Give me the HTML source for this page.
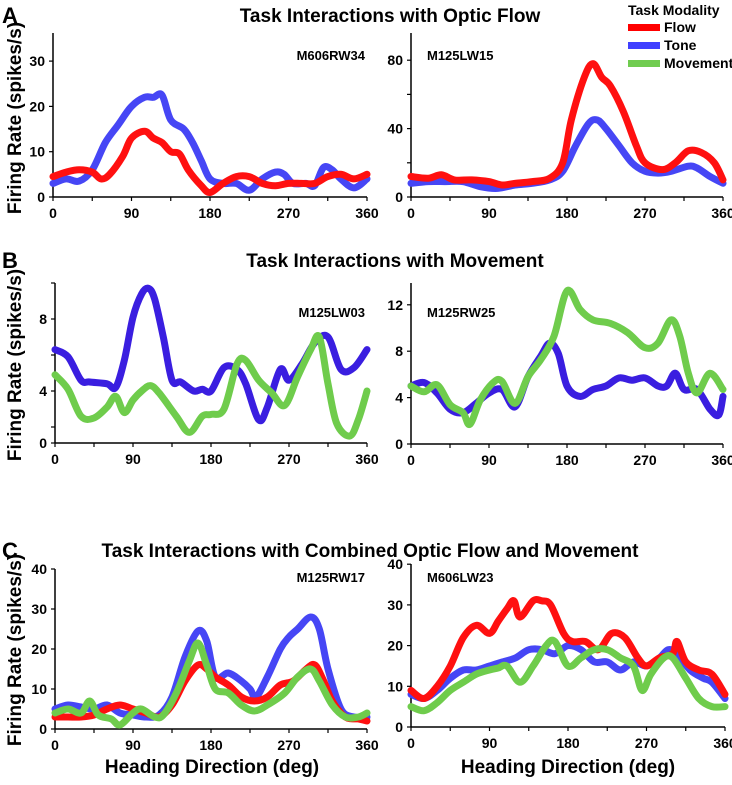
<!DOCTYPE html>
<html><head><meta charset="utf-8"><style>
body{margin:0;background:#fff;width:732px;height:780px;overflow:hidden}
svg text{font-family:"Liberation Sans",Arial,sans-serif;font-weight:bold;fill:#000}
</style></head><body>
<svg id="fig" width="732" height="780" xmlns="http://www.w3.org/2000/svg">
<text x="2" y="23" font-size="22">A</text>
<text x="390" y="22" font-size="19" text-anchor="middle">Task Interactions with Optic Flow</text>
<text x="2" y="268" font-size="22">B</text>
<text x="395" y="267" font-size="19" text-anchor="middle">Task Interactions with Movement</text>
<text x="2" y="558" font-size="22">C</text>
<text x="370" y="557" font-size="19" text-anchor="middle">Task Interactions with Combined Optic Flow and Movement</text>
<g>
<text x="628" y="15" font-size="14">Task Modality</text>
<rect x="628" y="24" width="32" height="7" fill="#ff0000"/>
<text x="664" y="32" font-size="14">Flow</text>
<rect x="628" y="42" width="32" height="7" fill="#4040ff"/>
<text x="664" y="50" font-size="14">Tone</text>
<rect x="628" y="60" width="32" height="7" fill="#70cc50"/>
<text x="664" y="68" font-size="14">Movement</text>
</g>
<text transform="translate(21,118) rotate(-90)" font-size="19" text-anchor="middle">Firing Rate (spikes/s)</text>
<text transform="translate(21,365) rotate(-90)" font-size="19" text-anchor="middle">Firing Rate (spikes/s)</text>
<text transform="translate(21,650) rotate(-90)" font-size="19" text-anchor="middle">Firing Rate (spikes/s)</text>
<text x="212" y="773" font-size="19" text-anchor="middle">Heading Direction (deg)</text>
<text x="568" y="773" font-size="19" text-anchor="middle">Heading Direction (deg)</text>
</svg>
<script>
// Shared x tick labels
const xTickLabels = [0, 90, 180, 270, 360];

// Panel A left (M606RW34)
const aL_tone_x = [0,15,30,45,60,75,90,105,115,125,135,150,160,170,180,195,210,225,240,255,265,275,290,300,310,320,330,345,360];
const aL_tone_y = [3,4,3.5,6,12,16,20,22,22,22.5,17,15,12,8,4,3,3,1.5,4,5.5,5,3,3,2.5,6.5,6,4,2,4];
const aL_flow_x = [0,15,30,45,55,65,80,90,105,115,125,135,145,155,170,180,195,210,225,240,255,270,285,300,315,330,345,360];
const aL_flow_y = [4.5,5.5,6,5.5,4,5,9,13,14.5,13,12,10,9.5,6,2.5,1,3,4.5,4.5,3,2.5,3,3,3,4.5,5,4,5];
const aL_ticks = [0,10,20,30];

// Panel A right (M125LW15)
const aR_tone_x = [0,20,40,60,80,100,120,140,160,175,190,205,215,225,240,255,270,285,300,320,330,345,360];
const aR_tone_y = [8,9,9,9,6,5,7,8,10,15,30,43,45,40,30,20,15,14,15,18,17,12,8];
const aR_flow_x = [0,20,35,50,70,90,105,120,140,160,175,185,200,210,220,230,245,260,270,290,305,320,335,350,360];
const aR_flow_y = [12,11,13,10,10,9,7,8,9,11,20,45,70,78,70,65,50,30,20,16,20,27,26,20,10];
const aR_ticks = [0,40,80];

// Panel B left (M125LW03)
const bL_tone_x = [0,15,30,40,60,70,80,90,100,108,115,125,135,145,160,170,180,195,210,220,235,245,260,270,285,300,315,330,345,360];
const bL_tone_y = [6.3,5.9,4.6,4.5,4.4,4.2,5.7,8.1,9.4,9.7,9.1,7.0,4.6,4.5,4.0,4.1,4.0,5.3,5.2,4.4,2.4,3.1,5.2,4.6,5.5,6.7,7.0,5.2,5.3,6.3];
const bL_move_x = [0,15,30,45,60,70,80,90,100,110,120,140,155,170,180,195,210,220,235,250,265,280,295,305,315,325,340,350,360];
const bL_move_y = [4.9,4.1,2.6,2.5,3.1,3.7,2.8,3.5,4.0,4.3,3.9,2.6,1.7,2.6,2.7,3.0,5.5,5.7,4.6,3.9,3.2,4.8,6.3,7.0,4.4,2.2,1.5,2.4,4.0];
const bL_ticks = [0,4,8];

// Panel B right (M125RW25)
const bR_tone_x = [0,15,30,45,60,75,90,105,120,135,150,160,170,180,195,210,225,240,255,270,285,295,305,315,330,345,355,360];
const bR_tone_y = [5.0,5.3,4.4,3.0,2.7,3.5,4.4,4.7,3.2,5.8,7.6,8.7,7.8,5.0,4.1,4.7,5.0,5.7,5.5,5.7,5.0,5.0,6.1,4.7,4.7,3.0,2.5,4.1];
const bR_move_x = [0,15,30,45,60,68,80,95,105,120,135,150,165,180,195,210,230,250,270,285,300,310,320,330,345,360];
const bR_move_y = [5.0,4.5,5.1,3.4,2.7,1.7,3.8,5.3,5.4,3.5,5.8,7.3,9.3,13.2,11.6,10.7,10.4,9.6,8.3,8.7,10.7,9.3,6.1,4.4,6.1,4.7];
const bR_ticks = [0,4,8,12];

// Panel C left (M125RW17)
const cL_tone_x = [0,15,30,45,60,75,90,105,120,135,150,165,175,185,200,215,225,232,245,260,270,280,295,305,315,330,345,360];
const cL_tone_y = [5,6,5.5,5,6,4,3.5,3,3.5,8,18,24.5,22,13,14,12,10,8,13,20,23,25,28,25,15,5,3,3];
const cL_flow_x = [0,15,30,45,60,75,90,105,120,135,150,165,175,185,200,215,230,245,260,275,290,300,310,320,335,350,360];
const cL_flow_y = [3,3,3,3.5,5,6,5,4,3,6,12,16,15,13,11,8,7,8,11,12,15,16,12,7,3,2.5,2];
const cL_move_x = [0,15,30,40,50,65,75,90,100,115,125,140,155,165,175,185,200,215,230,245,265,280,295,305,320,335,350,360];
const cL_move_y = [4,5,4,7,3.5,2.5,1,4,5,3,3.5,9,17,21.5,16,10,9,6,4.5,6,9,13,15,12,6,3,3,4];
const cL_ticks = [0,10,20,30,40];

// Panel C right (M606LW23)
const cR_flow_x = [0,15,30,45,60,75,90,100,110,118,125,140,150,160,175,185,200,215,230,245,260,270,285,300,305,315,330,345,360];
const cR_flow_y = [9,7,10,15,22,25,23,26,29,31,27,31,31,30,23,21,21,19,23,22,17,15,17,18,21,16,14,13,8];
const cR_tone_x = [0,15,30,45,60,75,90,105,120,135,150,165,180,195,210,225,240,255,270,285,295,305,320,335,345,360];
const cR_tone_y = [8,7,9,12,14,14,15,16,17,19,19,18,20,19,16,16,14,16,15,17,19,18,14,12,11,7];
const cR_move_x = [0,15,30,45,60,75,90,100,110,125,140,155,165,180,195,210,225,240,255,265,275,290,300,315,330,345,360];
const cR_move_y = [5,4,6,9,11,13,14,14.5,15,11,15,20,21,15,17,19,19,17,15,9,13,17,17,12,7,5,5];
const cR_ticks = [0,10,20,30,40];

const RED = '#ff1010', BLUE = '#4646f5', BLUE2 = '#3a1ee0', GREEN = '#6fcc4c';
const svg = document.getElementById('fig');
const NS = 'http://www.w3.org/2000/svg';

function mk(tag, attrs, parent) {
  const e = document.createElementNS(NS, tag);
  for (const k in attrs) e.setAttribute(k, attrs[k]);
  parent.appendChild(e);
  return e;
}

function smoothPath(pts) {
  let d = 'M' + pts[0][0].toFixed(1) + ',' + pts[0][1].toFixed(1);
  for (let i = 0; i < pts.length - 1; i++) {
    const p0 = pts[Math.max(0, i - 1)], p1 = pts[i], p2 = pts[i + 1], p3 = pts[Math.min(pts.length - 1, i + 2)];
    const c1x = p1[0] + (p2[0] - p0[0]) / 6, c1y = p1[1] + (p2[1] - p0[1]) / 6;
    const c2x = p2[0] - (p3[0] - p1[0]) / 6, c2y = p2[1] - (p3[1] - p1[1]) / 6;
    d += 'C' + c1x.toFixed(1) + ',' + c1y.toFixed(1) + ' ' + c2x.toFixed(1) + ',' + c2y.toFixed(1) + ' ' + p2[0].toFixed(1) + ',' + p2[1].toFixed(1);
  }
  return d;
}

function panel(name, cfg) {
  const g = mk('g', {}, svg);
  
  
  const xs = v => cfg.x0 + (cfg.x1 - cfg.x0) * v / 360;
  const ys = v => cfg.yZero - cfg.ppu * v;
  const ya = mk('line', {x1: cfg.x0, x2: cfg.x0, y1: cfg.top, y2: cfg.axisY, stroke: '#000', 'stroke-width': 1.5}, g);
  
  
  const xa = mk('line', {x1: cfg.x0, x2: cfg.x1, y1: cfg.axisY, y2: cfg.axisY, stroke: '#000', 'stroke-width': 1.5}, g);
  
  
  for (let d = 0; d <= 360; d += 45) {
    mk('line', {x1: xs(d), x2: xs(d), y1: cfg.axisY, y2: cfg.axisY + 4, stroke: '#000', 'stroke-width': 1.2}, g);
  }
  xTickLabels.forEach(v => {
    const t = mk('text', {x: xs(v), y: cfg.axisY + 21, 'font-size': 14, 'text-anchor': 'middle'}, g);
    
    
    t.textContent = v;
  });
  const step = cfg.ticks[1] - cfg.ticks[0];
  const tstep = cfg.minor ? step / 2 : step;
  for (let v = 0; ys(v) >= cfg.top - 1; v += tstep) {
    const yy = (v === 0) ? cfg.axisY : ys(v);
    mk('line', {x1: cfg.x0 - 4, x2: cfg.x0, y1: yy, y2: yy, stroke: '#000', 'stroke-width': 1.2}, g);
  }
  cfg.ticks.forEach(v => {
    const yy = (v === 0) ? cfg.axisY : ys(v);
    const t = mk('text', {x: cfg.x0 - 8, y: yy + 5, 'font-size': 14, 'text-anchor': 'end'}, g);
    
    
    t.textContent = v;
  });
  const lab = mk('text', {x: cfg.labX, y: cfg.labY, 'font-size': 13, 'text-anchor': cfg.labAnchor}, g);
  
  
  lab.textContent = cfg.label;
  cfg.series.forEach(s => {
    const pts = s.x.map((v, i) => [xs(v), ys(s.y[i])]);
    const p = mk('path', {d: smoothPath(pts), fill: 'none', stroke: s.color, 'stroke-width': 7, 'stroke-linejoin': 'round', 'stroke-linecap': 'round'}, g);
    
    
  });
}

panel('panel-a-left', {x0: 53, x1: 367, top: 33, axisY: 197, yZero: 197, ppu: 4.53, ticks: aL_ticks, minor: false,
  label: 'M606RW34', labX: 365, labY: 60, labAnchor: 'end',
  series: [{name: 'tone-line', x: aL_tone_x, y: aL_tone_y, color: BLUE}, {name: 'flow-line', x: aL_flow_x, y: aL_flow_y, color: RED}]});
panel('panel-a-right', {x0: 411, x1: 723, top: 33, axisY: 197, yZero: 197, ppu: 1.71, ticks: aR_ticks, minor: true,
  label: 'M125LW15', labX: 427, labY: 60, labAnchor: 'start',
  series: [{name: 'tone-line', x: aR_tone_x, y: aR_tone_y, color: BLUE}, {name: 'flow-line', x: aR_flow_x, y: aR_flow_y, color: RED}]});
panel('panel-b-left', {x0: 55, x1: 367, top: 283, axisY: 443, yZero: 463, ppu: 18, ticks: bL_ticks, minor: true,
  label: 'M125LW03', labX: 365, labY: 317, labAnchor: 'end',
  series: [{name: 'tone-line', x: bL_tone_x, y: bL_tone_y, color: BLUE2}, {name: 'movement-line', x: bL_move_x, y: bL_move_y, color: GREEN}]});
panel('panel-b-right', {x0: 411, x1: 723, top: 283, axisY: 444, yZero: 444, ppu: 11.6, ticks: bR_ticks, minor: false,
  label: 'M125RW25', labX: 427, labY: 317, labAnchor: 'start',
  series: [{name: 'tone-line', x: bR_tone_x, y: bR_tone_y, color: BLUE2}, {name: 'movement-line', x: bR_move_x, y: bR_move_y, color: GREEN}]});
panel('panel-c-left', {x0: 55, x1: 367, top: 569, axisY: 729, yZero: 729, ppu: 4.0, ticks: cL_ticks, minor: false,
  label: 'M125RW17', labX: 365, labY: 582, labAnchor: 'end',
  series: [{name: 'tone-line', x: cL_tone_x, y: cL_tone_y, color: BLUE}, {name: 'flow-line', x: cL_flow_x, y: cL_flow_y, color: RED}, {name: 'movement-line', x: cL_move_x, y: cL_move_y, color: GREEN}]});
panel('panel-c-right', {x0: 411, x1: 725, top: 564, axisY: 727, yZero: 727, ppu: 4.07, ticks: cR_ticks, minor: false,
  label: 'M606LW23', labX: 427, labY: 582, labAnchor: 'start',
  series: [{name: 'tone-line', x: cR_tone_x, y: cR_tone_y, color: BLUE}, {name: 'flow-line', x: cR_flow_x, y: cR_flow_y, color: RED}, {name: 'movement-line', x: cR_move_x, y: cR_move_y, color: GREEN}]});
</script>
</body></html>
